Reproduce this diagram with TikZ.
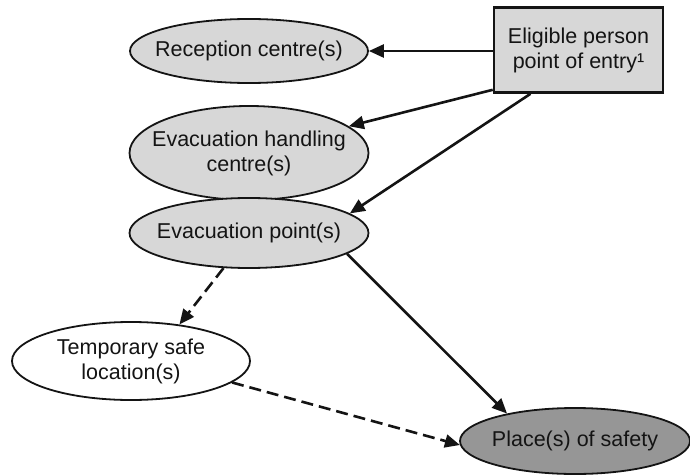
\documentclass[tikz,border=0pt]{standalone}
\usepackage{fontspec}
\setmainfont{Liberation Sans}
\usetikzlibrary{shapes.geometric,arrows.meta}
\definecolor{lightg}{RGB}{215,215,215}
\definecolor{darkg}{RGB}{150,150,150}
\definecolor{ink}{RGB}{20,20,20}
\begin{document}
\begin{tikzpicture}[x=1pt,y=-1pt,
  every node/.style={font=\fontsize{21.5}{25}\selectfont, text=ink, align=center},
  oval/.style={ellipse, draw=ink, line width=1.8pt, inner xsep=-80pt, inner ysep=0pt},
  conn/.style={draw=ink, line width=2.6pt, -{Triangle[length=15pt,width=13pt]}},
  dconn/.style={conn, dash pattern=on 12pt off 6pt}]
\useasboundingbox (0,0) rectangle (690,476);
\node[draw=ink, fill=lightg, line width=2.6pt, minimum width=169pt, minimum height=85pt, inner sep=0pt] (box) at (578.5,50) {Eligible person\\point of entry¹};
\node[oval, fill=lightg, minimum width=238pt, minimum height=64pt] (rec) at (249,51) {Reception centre(s)};
\node[oval, fill=lightg, minimum width=239pt, minimum height=94pt] (evh) at (249,153) {Evacuation handling\\centre(s)};
\node[oval, fill=lightg, minimum width=239pt, minimum height=70pt] (evp) at (249,233) {Evacuation point(s)};
\node[oval, fill=white, minimum width=238pt, minimum height=78pt] (tmp) at (131,361) {Temporary safe\\location(s)};
\node[oval, fill=darkg, minimum width=230pt, minimum height=66pt] (pos) at (575,441) {Place(s) of safety};
\draw[conn] (box.west |- rec.east) -- (rec.east);
\draw[conn] ([yshift=4pt]box.south west) -- (evh.15);
\draw[conn] ([xshift=-48pt]box.south) -- (evp.11);
\draw[conn] (evp.-12) -- (pos.158);
\draw[dconn] (evp.-126) -- (tmp.37);
\draw[dconn] (tmp.-12) -- (pos.182);
\end{tikzpicture}
\end{document}
